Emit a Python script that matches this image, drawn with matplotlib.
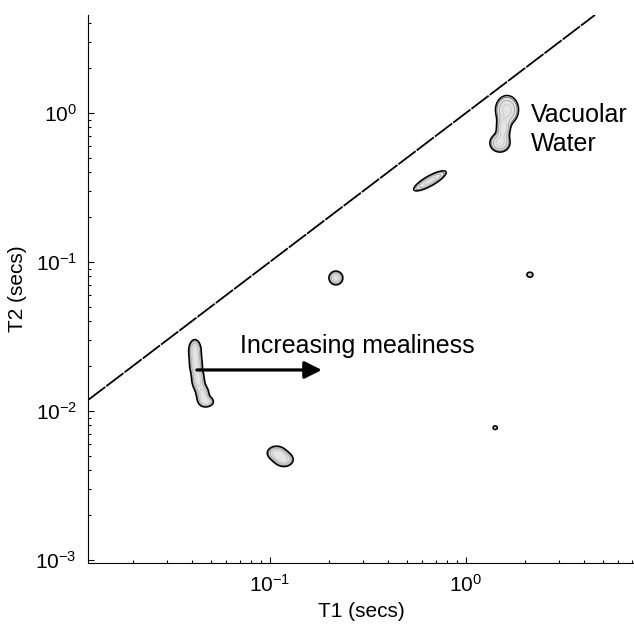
import numpy as np
import matplotlib
matplotlib.use('Agg')
import matplotlib.pyplot as plt

plt.rcParams['font.family'] = ['Liberation Sans', 'DejaVu Sans']
plt.rcParams['mathtext.fontset'] = 'custom'
plt.rcParams['mathtext.rm'] = 'Liberation Sans'
plt.rcParams['mathtext.it'] = 'Liberation Sans:italic'
plt.rcParams['axes.unicode_minus'] = False

# axis ranges (secs)
t1_range = [0.0118, 7.2]
t2_range = [0.00095, 4.55]

# peak centres (T1, T2 in secs)
peak_t1 = [0.0414, 0.0419, 0.0430, 0.0455, 0.0477,
           0.108, 0.118, 0.217, 0.655,
           1.62, 1.55, 1.49,
           2.12, 1.41]
peak_t2 = [0.0256, 0.0204, 0.0161, 0.0128, 0.0115,
           0.0052, 0.0047, 0.078, 0.35,
           1.05, 0.79, 0.63,
           0.082, 0.0077]
# spread along / across each peak (decades) and tilt (deg)
peak_wide = [0.020, 0.020, 0.020, 0.020, 0.021,
             0.030, 0.030, 0.023, 0.066,
             0.038, 0.020, 0.033,
             0.010, 0.007]
peak_tall = [0.045, 0.045, 0.045, 0.040, 0.020,
             0.030, 0.030, 0.030, 0.020,
             0.062, 0.040, 0.040,
             0.011, 0.008]
peak_tilt = [0, 0, 0, 0, 0,
             0, 0, 0, 38,
             0, 0, 0,
             0, 0]

# T2 = T1 line
diag_t = [0.0118, 4.55]

arrow_from = (0.0424, 0.0188)
arrow_to = (0.184, 0.0188)


def build_field():
    lx = np.linspace(np.log10(t1_range[0]), np.log10(t1_range[1]), 1400)
    ly = np.linspace(np.log10(t2_range[0]), np.log10(t2_range[1]), 1400)
    LX, LY = np.meshgrid(lx, ly)
    Z = np.zeros_like(LX)
    for cx, cy, sw, st, ang in zip(peak_t1, peak_t2, peak_wide, peak_tall, peak_tilt):
        a = np.deg2rad(ang)
        dx = LX - np.log10(cx)
        dy = LY - np.log10(cy)
        u = dx * np.cos(a) + dy * np.sin(a)
        v = -dx * np.sin(a) + dy * np.cos(a)
        Z += np.exp(-0.5 * ((u / sw) ** 2 + (v / st) ** 2))
    return 10 ** LX, 10 ** LY, Z


fig = plt.figure(figsize=(6.34, 6.27), dpi=100)
ax = fig.add_axes([88 / 634, 1 - 563 / 627, 546 / 634, 548 / 627])

X, Y, Z = build_field()
ax.contourf(X, Y, Z, levels=[0.3, 100], colors=['#e4e4e4'])
ax.contour(X, Y, Z, levels=[0.4, 0.6, 0.85], colors=['#707070', '#a8a8a8', '#c8c8c8'],
           linewidths=0.7)
ax.contour(X, Y, Z, levels=[0.3], colors='black', linewidths=1.1)

ax.plot(diag_t, diag_t, color='black', lw=1.3, dashes=(12, 0.7))

ax.annotate('', xy=arrow_to, xytext=arrow_from,
            arrowprops=dict(arrowstyle='-|>', lw=2.3, color='black', mutation_scale=26,
                            shrinkA=0, shrinkB=0))
ax.text(0.0703, 0.0245, 'Increasing mealiness', fontsize=18, ha='left', va='baseline')
ax.text(2.15, 0.87, 'Vacuolar', fontsize=18, ha='left', va='baseline')
ax.text(2.15, 0.556, 'Water', fontsize=18, ha='left', va='baseline')

ax.set_xscale('log')
ax.set_yscale('log')
ax.set_xlim(t1_range)
ax.set_ylim(t2_range)

ax.spines['top'].set_visible(False)
ax.spines['right'].set_visible(False)
ax.tick_params(which='both', direction='in', labelsize=15, width=0.8)
ax.tick_params(which='major', length=4.5, pad=8)
ax.tick_params(which='minor', length=2.5)

ax.set_xlabel('T1 (secs)', fontsize=15)
ax.set_ylabel('T2 (secs)', fontsize=15, labelpad=6)

fig.savefig('out.png', dpi=100)
